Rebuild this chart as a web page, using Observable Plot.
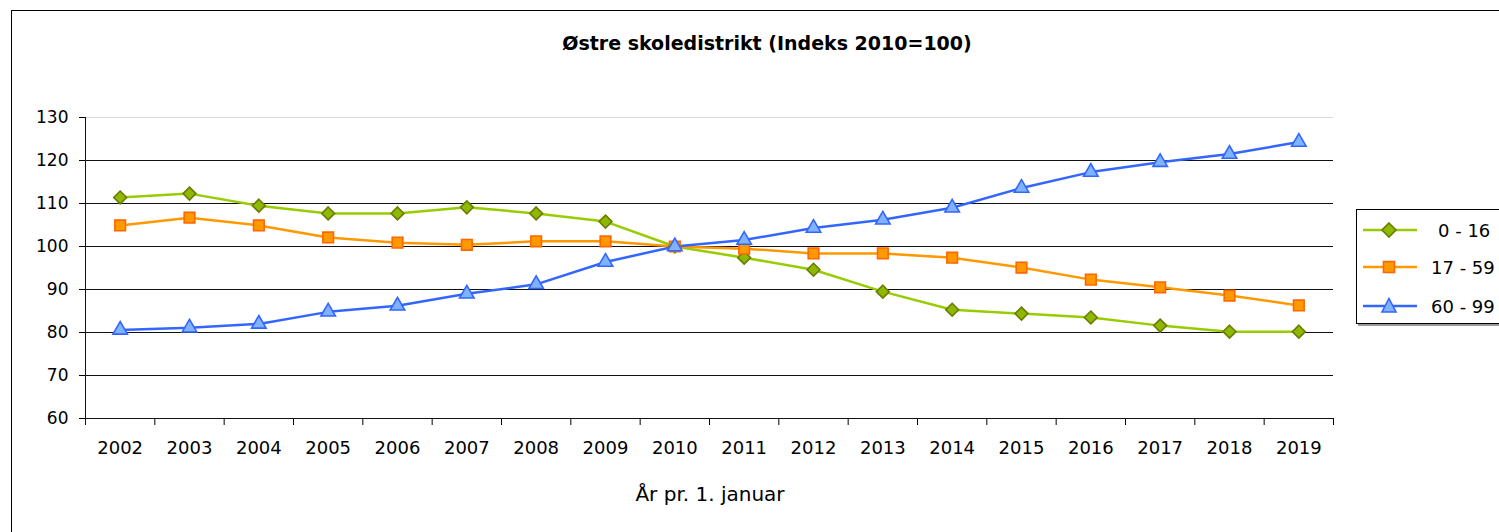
<!DOCTYPE html>
<html><head><meta charset="utf-8">
<script src="https://cdn.jsdelivr.net/npm/d3@7"></script>
<script src="https://cdn.jsdelivr.net/npm/@observablehq/plot@0.6"></script>
<style>
body{margin:0;background:#fff;font-family:"DejaVu Sans",sans-serif;}
#wrap{position:relative;width:1499px;height:532px;overflow:hidden;background:#fff;}
#frame{position:absolute;left:11px;top:10px;width:1600px;height:600px;border:1.5px solid #000;}
#title{position:absolute;top:32px;left:0;width:1534px;text-align:center;font-weight:bold;font-size:19px;color:#000;}
#xlabel{position:absolute;top:482px;left:0;width:1420px;text-align:center;font-size:20px;color:#000;}
#chart{position:absolute;left:0;top:0;}
#legend{position:absolute;left:1356px;top:209px;width:220px;height:113px;border:1.5px solid #000;background:#fff;box-shadow:2px 2px 0 #999;}
.li{position:absolute;left:4px;height:24px;display:flex;align-items:center;font-size:18px;white-space:pre;color:#000;}
.li svg{margin-right:14px;}
</style>
</head><body>
<div id="wrap">
  <div id="frame"></div>
  <div id="chart"></div>
  <div id="title">Østre skoledistrikt (Indeks 2010=100)</div>
  <div id="xlabel">År pr. 1. januar</div>
  <div id="legend"></div>
</div>
<script>
const years = [2002,2003,2004,2005,2006,2007,2008,2009,2010,2011,2012,2013,2014,2015,2016,2017,2018,2019];
const g0_16  = [111.4,112.3,109.5,107.7,107.7,109.1,107.7,105.8,100,97.4,94.6,89.5,85.3,84.4,83.5,81.6,80.2,80.2];
const g17_59 = [104.9,106.7,104.9,102.1,100.9,100.4,101.2,101.2,100,99.5,98.4,98.4,97.4,95.1,92.3,90.5,88.6,86.3];
const g60_99 = [80.6,81.1,82.0,84.8,86.2,89.0,91.2,96.4,100,101.5,104.3,106.2,109.0,113.6,117.3,119.6,121.5,124.3];
const seriesNames = ["0 - 16", "17 - 59", "60 - 99"];
const yTicks = [60,70,80,90,100,110,120,130];

const styles = [
  {line:"#99cc00", fill:"#8fb800", stroke:"#6b7d00", symbol:"diamond2", r:5.8},
  {line:"#ff9900", fill:"#ff9900", stroke:"#ff6600", symbol:"square", r:6.0},
  {line:"#3366ff", fill:"#80b3ff", stroke:"#3366ff", symbol:"triangle", r:5.4}
];
const values = [g0_16, g17_59, g60_99];
const data = values.map((vals, i) => years.map((yr, j) => ({year: yr, value: vals[j], series: seriesNames[i]})));
const boundaries = [2001.5, ...years.map(y => y + 0.5)];

const marks = [
  Plot.ruleY(yTicks.filter(t => t > 60 && t < 130), {stroke:"#111", strokeWidth:1}),
  Plot.ruleY([130], {stroke:"#d8d8d8", strokeWidth:1}),
  Plot.axisY({ticks: yTicks, tickSize:6, tickPadding:11, label:null, fontSize:17}),
  Plot.axisX({ticks: boundaries, tickSize:7, tickFormat: () => "", label:null}),
  Plot.axisX({ticks: years, tickSize:0, tickPadding:23, tickFormat: d => String(d), label:null, fontSize:18}),
  Plot.ruleX([2001.5], {stroke:"#111", insetBottom:-7}),
  Plot.ruleY([60], {stroke:"#111"})
];
data.forEach((d, i) => {
  const s = styles[i];
  marks.push(Plot.line(d, {x:"year", y:"value", stroke:s.line, strokeWidth:2.5}));
});
data.forEach((d, i) => {
  const s = styles[i];
  marks.push(Plot.dot(d, {x:"year", y:"value", symbol:() => s.symbol, r:s.r, fill:s.fill, stroke:s.stroke, strokeWidth:1.6}));
});

const chart = Plot.plot({
  width:1499, height:532,
  marginLeft:85, marginRight:166, marginTop:117, marginBottom:114,
  style:{fontFamily:"DejaVu Sans, sans-serif", fontSize:"17px", color:"#000", background:"transparent"},
  x:{type:"linear", domain:[2001.5, 2019.5]},
  y:{domain:[60, 130]},
  symbol:{type:"identity"},
  marks
});
document.getElementById("chart").appendChild(chart);

// legend
const legend = document.getElementById("legend");
const rowsTop = [8, 45, 84];
const symPaths = [
  "M28,5 L35,12 L28,19 L21,12 Z",
  "M22.5,6.5 h11 v11 h-11 Z",
  "M28,4.5 L35,18 L21,18 Z"
];
seriesNames.forEach((name, i) => {
  const s = styles[i];
  const div = document.createElement("div");
  div.className = "li";
  div.style.top = rowsTop[i] + "px";
  div.innerHTML = `<svg width="56" height="24"><line x1="2" x2="56" y1="12" y2="12" stroke="${s.line}" stroke-width="2.5"/><path d="${symPaths[i]}" fill="${s.fill}" stroke="${s.stroke}" stroke-width="1.6"/></svg><span style="margin-left:${i===0?7:0}px">${name}</span>`;
  legend.appendChild(div);
});
</script>
</body></html>
